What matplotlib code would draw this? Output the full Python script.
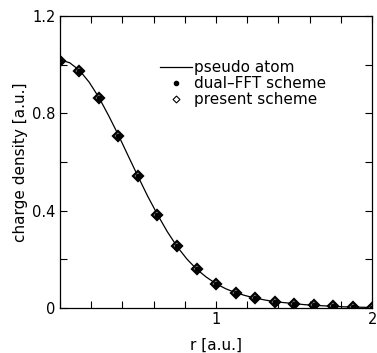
import numpy as np
import matplotlib
matplotlib.use('Agg')
import matplotlib.pyplot as plt
from matplotlib.ticker import MultipleLocator, FixedLocator
from matplotlib.lines import Line2D

# sampled points (both schemes lie on top of each other)
r_pts = [0.0, 0.125, 0.25, 0.375, 0.5, 0.625, 0.75, 0.875, 1.0,
         1.125, 1.25, 1.375, 1.5, 1.625, 1.75, 1.875, 2.0]
rho_dual = [1.016, 0.975, 0.863, 0.709, 0.541, 0.384, 0.253, 0.160, 0.100,
            0.062, 0.042, 0.026, 0.018, 0.011, 0.007, 0.004, 0.002]
rho_present = [1.016, 0.975, 0.863, 0.709, 0.541, 0.384, 0.253, 0.160, 0.100,
               0.062, 0.042, 0.026, 0.018, 0.011, 0.007, 0.004, 0.002]

r_line = [0.0, 0.0625, 0.125, 0.1875, 0.25, 0.3125, 0.375, 0.4375, 0.5,
          0.5625, 0.625, 0.6875, 0.75, 0.8125, 0.875, 0.9375, 1.0,
          1.0625, 1.125, 1.1875, 1.25, 1.3125, 1.375, 1.4375, 1.5,
          1.5625, 1.625, 1.6875, 1.75, 1.8125, 1.875, 1.9375, 2.0]
rho_line = [1.020, 1.008, 0.977, 0.928, 0.865, 0.790, 0.710, 0.625, 0.541,
            0.459, 0.384, 0.314, 0.253, 0.202, 0.160, 0.127, 0.100,
            0.079, 0.063, 0.051, 0.041, 0.033, 0.026, 0.022, 0.018,
            0.014, 0.011, 0.009, 0.007, 0.005, 0.004, 0.003, 0.002]

x_ticklabels = ['', '1', '2']
y_ticklabels = ['0', '0.4', '0.8', '1.2']

fig = plt.figure(figsize=(3.77, 3.53), dpi=100)
ax = fig.add_axes([0.159, 0.1275, 0.828, 0.827])

ax.plot(r_line, rho_line, color='black', linewidth=0.9, label='pseudo atom')
ax.plot(r_pts, rho_present, linestyle='none', marker='D', markersize=5,
        markerfacecolor='white', markeredgecolor='black', markeredgewidth=1.6,
        label='present scheme')
# dots on top so the markers look solid
ax.plot(r_pts, rho_dual, linestyle='none', marker='o', markersize=3.5,
        color='black', label='dual\u2013FFT scheme')

ax.set_xlim(0, 2)
ax.set_ylim(0, 1.2)

ax.xaxis.set_major_locator(FixedLocator([0, 1, 2]))
ax.xaxis.set_minor_locator(MultipleLocator(0.2))
ax.set_xticklabels(x_ticklabels)
ax.yaxis.set_major_locator(FixedLocator([0, 0.4, 0.8, 1.2]))
ax.yaxis.set_minor_locator(MultipleLocator(0.2))
ax.set_yticklabels(y_ticklabels)

ax.tick_params(which='both', direction='in', top=True, right=True,
               length=5, width=0.8, labelsize=10.5)
ax.tick_params(axis='x', pad=3)
ax.tick_params(axis='y', pad=3)
for sp in ax.spines.values():
    sp.set_linewidth(0.9)

ax.set_xlabel('r [a.u.]', fontsize=11, labelpad=8)
ax.set_ylabel('charge density [a.u.]', fontsize=11, labelpad=3)

# legend handles: small dot and open diamond like the original
handles = [
    Line2D([], [], color='black', linewidth=0.9),
    Line2D([], [], linestyle='none', marker='o', markersize=3, color='black'),
    Line2D([], [], linestyle='none', marker='D', markersize=3.5,
           markerfacecolor='white', markeredgecolor='black', markeredgewidth=0.8),
]
ax.legend(handles, ['pseudo atom', 'dual\u2013FFT scheme', 'present scheme'],
          loc='upper left', bbox_to_anchor=(0.32, 0.848), frameon=False,
          fontsize=11, handlelength=2.1, handletextpad=0.15,
          labelspacing=0.05, borderpad=0, borderaxespad=0)

fig.savefig('out.png', dpi=100)
